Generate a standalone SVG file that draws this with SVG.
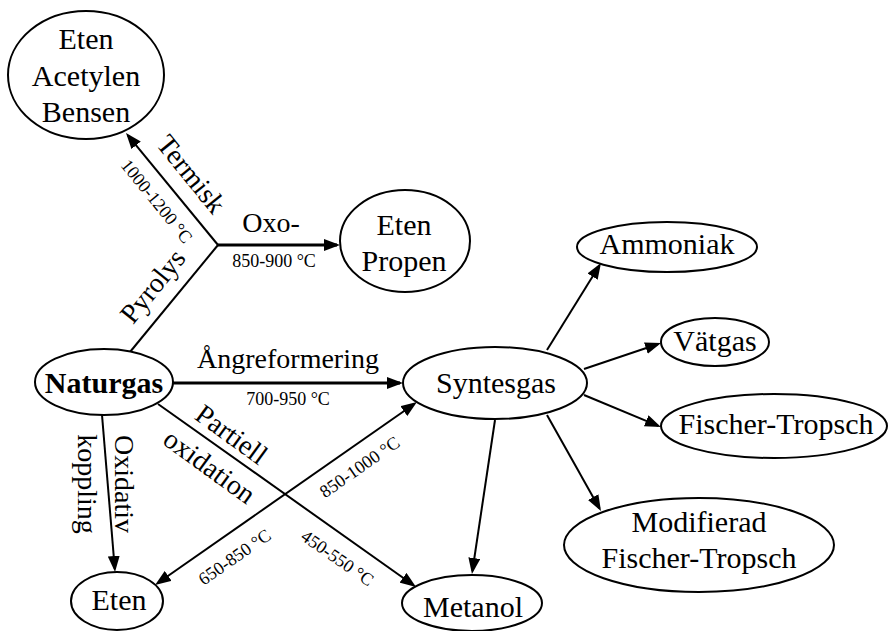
<svg xmlns="http://www.w3.org/2000/svg" width="888" height="631" viewBox="0 0 888 631">
  <style>
    .node ellipse { fill: #ffffff; stroke: #000000; stroke-width: 2; }
    .nt { font-family: "Liberation Serif", "Times New Roman", serif; font-size: 30px; fill: #000; text-anchor: middle; }
    .el { font-family: "Liberation Serif", "Times New Roman", serif; font-size: 28px; fill: #000; text-anchor: middle; }
    .tl { font-family: "Liberation Serif", "Times New Roman", serif; font-size: 18px; fill: #000; text-anchor: middle; }
    .edge { stroke: #000; stroke-width: 2; fill: none; }
    .arr { marker-end: url(#ah); }
  </style>
  <defs>
    <marker id="ah" viewBox="0 0 16 12" refX="13" refY="6" markerWidth="16" markerHeight="12" markerUnits="userSpaceOnUse" orient="auto-start-reverse">
      <path d="M0,0 L16,6 L0,12 z" fill="#000"/>
    </marker>
  </defs>
  <rect width="888" height="631" fill="#ffffff"/>

  <g id="connectors">
    <line class="edge arr" x1="218" y1="245" x2="127.9" y2="135.3"/>
    <line class="edge arr" x1="218" y1="245" x2="337" y2="245" style="stroke-width:3"/>
    <line class="edge" x1="130" y1="352" x2="218" y2="245"/>
    <line class="edge arr" x1="173" y1="383" x2="400" y2="383" style="stroke-width:3"/>
    <line class="edge arr" x1="158" y1="404" x2="413.6" y2="585.3"/>
    <line class="edge arr" x1="102" y1="415" x2="114.8" y2="569"/>
    <line class="edge arr" x1="157.5" y1="583.3" x2="414.5" y2="403.7" marker-start="url(#ah)"/>
    <line class="edge arr" x1="547" y1="350" x2="599.4" y2="265.5"/>
    <line class="edge arr" x1="584" y1="369" x2="658.2" y2="344"/>
    <line class="edge arr" x1="584" y1="395" x2="658.2" y2="425.8"/>
    <line class="edge arr" x1="547" y1="415" x2="599.5" y2="508.4"/>
    <line class="edge arr" x1="495" y1="420" x2="472.4" y2="571"/>

    <text class="el" x="271" y="232">Oxo-</text>
    <text class="tl" x="274" y="267">850-900 °C</text>
    <text class="el" x="288" y="368">Ångreformering</text>
    <text class="tl" x="288" y="405">700-950 °C</text>
    <text class="el" transform="translate(184,180) rotate(51)">Termisk</text>
    <text class="tl" transform="translate(152,205) rotate(51)">1000-1200 °C</text>
    <text class="el" transform="translate(160,292) rotate(-51)">Pyrolys</text>
    <text class="el" transform="translate(226,442) rotate(36)">Partiell</text>
    <text class="el" transform="translate(204,474) rotate(36)">oxidation</text>
    <text class="tl" transform="translate(363,472) rotate(-35)">850-1000 °C</text>
    <text class="tl" transform="translate(334,563) rotate(35)">450-550 °C</text>
    <text class="tl" transform="translate(238,562) rotate(-35)">650-850 °C</text>
    <text class="el" transform="translate(115,484) rotate(90)">Oxidativ</text>
    <text class="el" transform="translate(78,484) rotate(90)">koppling</text>
  </g>

  <g id="n-eab" class="node">
    <ellipse cx="86" cy="75" rx="78" ry="64"/>
    <text class="nt" x="86" y="49">Eten</text>
    <text class="nt" x="86" y="86">Acetylen</text>
    <text class="nt" x="86" y="122">Bensen</text>
  </g>
  <g id="n-etenpropen" class="node">
    <ellipse cx="405" cy="241" rx="65" ry="51"/>
    <text class="nt" x="404" y="235">Eten</text>
    <text class="nt" x="404" y="271">Propen</text>
  </g>
  <g id="n-naturgas" class="node">
    <ellipse cx="104" cy="382" rx="69" ry="33"/>
    <text class="nt" x="104" y="393" font-weight="bold">Naturgas</text>
  </g>
  <g id="n-syntesgas" class="node">
    <ellipse cx="495" cy="383" rx="92" ry="36"/>
    <text class="nt" x="496" y="393">Syntesgas</text>
  </g>
  <g id="n-ammoniak" class="node">
    <ellipse cx="667" cy="247" rx="90" ry="25"/>
    <text class="nt" x="667" y="254">Ammoniak</text>
  </g>
  <g id="n-vatgas" class="node">
    <ellipse cx="715" cy="342" rx="54" ry="24"/>
    <text class="nt" x="715" y="351">Vätgas</text>
  </g>
  <g id="n-ft" class="node">
    <ellipse cx="774" cy="426" rx="113" ry="32"/>
    <text class="nt" x="776" y="434">Fischer-Tropsch</text>
  </g>
  <g id="n-mft" class="node">
    <ellipse cx="699" cy="545" rx="135" ry="47"/>
    <text class="nt" x="699" y="532">Modifierad</text>
    <text class="nt" x="699" y="568">Fischer-Tropsch</text>
  </g>
  <g id="n-metanol" class="node">
    <ellipse cx="472" cy="603" rx="70" ry="28"/>
    <text class="nt" x="473" y="617">Metanol</text>
  </g>
  <g id="n-eten" class="node">
    <ellipse cx="117" cy="601" rx="46" ry="29"/>
    <text class="nt" x="119" y="610">Eten</text>
  </g>
</svg>
